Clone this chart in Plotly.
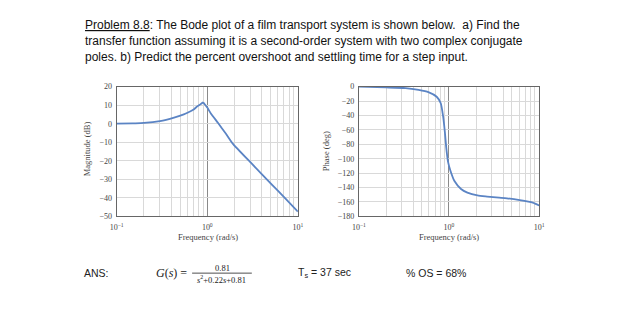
import plotly.graph_objects as go

# Bode magnitude of the film transport system
mag_freq = [0.1, 0.15, 0.2, 0.3, 0.43, 0.55, 0.62, 0.7, 0.76, 0.83, 0.9,
            1.0, 1.1, 1.31, 1.6, 1.9, 3.1, 5.1, 7.0, 10.0]
mag_db = [0.0, 0.2, 0.4, 1.4, 3.3, 5.0, 6.2, 7.5, 9.0, 10.3, 11.6,
          8.7, 5.4, 0.5, -5.3, -10.6, -21.6, -32.6, -39.5, -47.5]
peak_idx = mag_db.index(max(mag_db))

# Bode phase
ph_freq = [0.1, 0.2, 0.33, 0.46, 0.59, 0.73, 0.81, 0.86, 0.9, 0.935, 0.975,
           1.04, 1.15, 1.36, 1.6, 2.07, 2.65, 3.6, 4.4, 6.1, 8.5, 10.0]
ph_deg = [0, -1, -2, -4.5, -7.5, -14, -23, -41, -63, -86, -104,
          -117, -131, -142, -147, -151, -152.5, -154, -155, -157.5, -161, -165]

x_tickvals = [0.1, 1, 10]
x_ticktext = ["10<sup>−1</sup>", "10<sup>0</sup>", "10<sup>1</sup>"]
x_minor = [k * d for d in (0.1, 1) for k in range(2, 10)]
mag_ticks = [-50, -40, -30, -20, -10, 0, 10, 20]
ph_ticks = [-180, -160, -140, -120, -100, -80, -60, -40, -20, 0]

W, H = 630, 329
LINE = "#5b84c4"
SERIF = "Liberation Serif"
SANS = "Liberation Sans"


def px(x):
    return x / W


def py(y):
    return 1 - y / H


fig = go.Figure()
# rising branch up to the resonant peak, then the roll-off branch
fig.add_trace(go.Scatter(x=mag_freq[:peak_idx + 1], y=mag_db[:peak_idx + 1], mode="lines",
                         line=dict(color=LINE, width=1.8, shape="spline", smoothing=0.8),
                         xaxis="x", yaxis="y", showlegend=False))
fig.add_trace(go.Scatter(x=mag_freq[peak_idx:], y=mag_db[peak_idx:], mode="lines",
                         line=dict(color=LINE, width=1.8, shape="spline", smoothing=0.5),
                         xaxis="x", yaxis="y", showlegend=False))
fig.add_trace(go.Scatter(x=ph_freq, y=ph_deg, mode="lines",
                         line=dict(color=LINE, width=1.8, shape="spline", smoothing=0.6),
                         xaxis="x2", yaxis="y2", showlegend=False))

tickfont = dict(family=SERIF, size=8, color="#444")
xcommon = dict(type="log", range=[-1, 1], tickvals=x_tickvals, ticktext=x_ticktext,
               showgrid=True, gridcolor="#8a8a8a", gridwidth=1,
               minor=dict(tickvals=x_minor, showgrid=True, gridcolor="#d9d9d9",
                          gridwidth=1, ticks=""),
               showline=True, mirror=True, linecolor="#666", linewidth=1,
               ticks="outside", ticklen=3, tickcolor="rgba(0,0,0,0)",
               tickfont=tickfont, zeroline=False, fixedrange=True)
ycommon = dict(showgrid=True, gridcolor="#d9d9d9", gridwidth=1,
               showline=True, mirror=True, linecolor="#666", linewidth=1,
               ticks="outside", ticklen=2, tickcolor="rgba(0,0,0,0)",
               tickfont=tickfont, zeroline=False, fixedrange=True)

fig.update_layout(
    width=W, height=H, margin=dict(l=0, r=0, t=0, b=0),
    paper_bgcolor="white", plot_bgcolor="white",
    xaxis=dict(domain=[px(112), px(297)], anchor="y", **xcommon),
    yaxis=dict(domain=[py(218.3), py(85)], anchor="x", range=[-50, 20],
               tickvals=mag_ticks, **ycommon),
    xaxis2=dict(domain=[px(359.3), px(543.3)], anchor="y2", **xcommon),
    yaxis2=dict(domain=[py(218.3), py(85)], anchor="x2", range=[-180, 0],
                tickvals=ph_ticks, **ycommon),
)

ann = []
# problem statement
stmt = [
    "<u>Problem 8.8</u>: The Bode plot of a film transport system is shown below.  a) Find the",
    "transfer function assuming it is a second-order system with two complex conjugate",
    "poles. b) Predict the percent overshoot and settling time for a step input.",
]
for i, line in enumerate(stmt):
    ann.append(dict(x=px(78), y=py(22 + 16 * i), text=line, xanchor="left",
                    yanchor="middle", font=dict(family=SANS, size=12, color="#111")))

# axis titles
lab = dict(family=SERIF, size=8.5, color="#444")
ann.append(dict(x=px(82), y=py(149), text="Magnitude (dB)", textangle=-90,
                xanchor="center", yanchor="middle", font=lab))
ann.append(dict(x=px(326), y=py(151), text="Phase (deg)", textangle=-90,
                xanchor="center", yanchor="middle", font=lab))
ann.append(dict(x=px(205), y=py(240), text="Frequency (rad/s)",
                xanchor="center", yanchor="middle", font=lab))
ann.append(dict(x=px(451), y=py(240), text="Frequency (rad/s)",
                xanchor="center", yanchor="middle", font=lab))

# answer row
ansfont = dict(family=SANS, size=10.5, color="#222")
ann.append(dict(x=px(77), y=py(277), text="ANS:", xanchor="left", yanchor="middle",
                font=ansfont))
ann.append(dict(x=px(150), y=py(277), text="<i>G</i>(<i>s</i>) =", xanchor="left",
                yanchor="middle", font=dict(family=SERIF, size=12, color="#222")))
frac = dict(family=SERIF, size=8.5, color="#222")
ann.append(dict(x=px(220), y=py(271.5), text="0.81", xanchor="center",
                yanchor="middle", font=frac))
ann.append(dict(x=px(219.5), y=py(283.5),
                text="<i>s</i><sup>2</sup>+0.22<i>s</i>+0.81", xanchor="center",
                yanchor="middle", font=frac))
ann.append(dict(x=px(295), y=py(277), text="T<sub>s</sub> = 37 sec", xanchor="left",
                yanchor="middle", font=ansfont))
ann.append(dict(x=px(405), y=py(277), text="% OS = 68%", xanchor="left",
                yanchor="middle", font=ansfont))

for a in ann:
    a.update(xref="paper", yref="paper", showarrow=False)
fig.update_layout(annotations=ann)

# fraction bar
fig.add_shape(type="line", xref="paper", yref="paper",
              x0=px(189), x1=px(250), y0=py(276.7), y1=py(276.7),
              line=dict(color="#222", width=0.8))

fig.write_html("out.html")
